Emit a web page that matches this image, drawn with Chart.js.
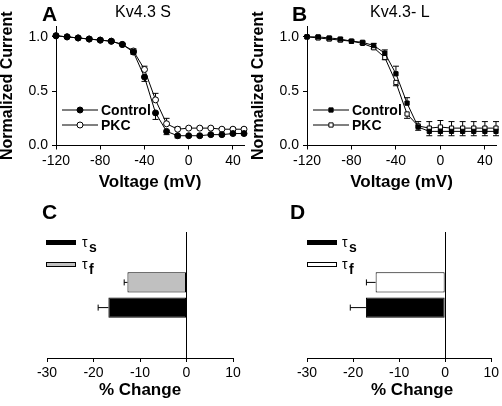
<!DOCTYPE html>
<html>
<head>
<meta charset="utf-8">
<script src="https://cdn.jsdelivr.net/npm/chart.js@4/dist/chart.umd.min.js"></script>
<style>
  body { margin: 0; background: #fff; }
  #page { position: relative; width: 502px; height: 406px; overflow: hidden; font-family: Arial, "Liberation Sans", sans-serif; }
  .panel { position: absolute; }
  .letter { position: absolute; font-weight: bold; font-size: 21px; line-height: 1; }
  .title { position: absolute; font-size: 16px; line-height: 1; }
</style>
</head>
<body>
<div id="page">
  <div class="panel" style="left:0;top:0;width:250px;height:200px"><canvas id="chartA"></canvas></div>
  <div class="panel" style="left:251px;top:0;width:251px;height:200px"><canvas id="chartB"></canvas></div>
  <div class="panel" style="left:0;top:200px;width:250px;height:206px"><canvas id="chartC"></canvas></div>
  <div class="panel" style="left:251px;top:200px;width:251px;height:206px"><canvas id="chartD"></canvas></div>
  <div class="letter" style="left:42px;top:3px">A</div>
  <div class="title" style="left:115px;top:4px">Kv4.3 S</div>
  <div class="letter" style="left:292px;top:3px">B</div>
  <div class="title" style="left:370px;top:4px">Kv4.3- L</div>
  <div class="letter" style="left:42px;top:201px">C</div>
  <div class="letter" style="left:290px;top:201px">D</div>
</div>
<script>
// voltage steps (mV)
const voltages = [-120, -110, -100, -90, -80, -70, -60, -50, -40, -30, -20, -10, 0, 10, 20, 30, 40, 50];

// panel A - Kv4.3 S
const ctrlA    = [1.01, 1.00, 0.99, 0.98, 0.97, 0.96, 0.93, 0.86, 0.63, 0.30, 0.13, 0.09, 0.09, 0.09, 0.10, 0.10, 0.11, 0.11];
const ctrlAErr = [0.01, 0.01, 0.01, 0.01, 0.01, 0.01, 0.01, 0.02, 0.04, 0.06, 0.03, 0.02, 0.01, 0.01, 0.01, 0.01, 0.01, 0.01];
const pkcA     = [1.01, 1.00, 0.99, 0.98, 0.97, 0.96, 0.93, 0.87, 0.70, 0.42, 0.20, 0.15, 0.16, 0.16, 0.16, 0.15, 0.15, 0.15];
const pkcAErr  = [0.01, 0.01, 0.01, 0.01, 0.01, 0.01, 0.01, 0.02, 0.03, 0.06, 0.05, 0.02, 0.01, 0.01, 0.01, 0.01, 0.01, 0.01];

// panel B - Kv4.3 L
const ctrlB    = [1.00, 1.00, 0.99, 0.98, 0.96, 0.95, 0.92, 0.85, 0.66, 0.39, 0.17, 0.13, 0.13, 0.13, 0.13, 0.13, 0.13, 0.13];
const ctrlBErr = [0.01, 0.01, 0.01, 0.01, 0.01, 0.01, 0.02, 0.03, 0.07, 0.05, 0.03, 0.04, 0.04, 0.04, 0.04, 0.04, 0.04, 0.04];
const pkcB     = [1.00, 0.99, 0.98, 0.97, 0.96, 0.94, 0.90, 0.81, 0.58, 0.29, 0.18, 0.16, 0.17, 0.16, 0.16, 0.16, 0.16, 0.16];
const pkcBErr  = [0.01, 0.01, 0.01, 0.01, 0.01, 0.01, 0.01, 0.02, 0.03, 0.04, 0.04, 0.06, 0.06, 0.06, 0.06, 0.06, 0.06, 0.06];

const seriesNames = ['Control', 'PKC'];
const yTicksIV = [0, 0.5, 1.0];
const xTicksIV = [-120, -80, -40, 0, 40];

// panels C and D - % change of tau
const tauLabels = ['τs', 'τf'];
const tauSubs = ['s', 'f'];
const barRows = ['', '', 'τf', 'τs', '', ''];
const tauC    = [-16.8, -12.7];
const tauCErr = [2.2, 0.7];
const tauD    = [-17.2, -15.1];
const tauDErr = [3.4, 2.0];
const xTicksBar = [-30, -20, -10, 0, 10];

const FONT = 'Arial, "Liberation Sans", sans-serif';
Chart.defaults.font.family = FONT;
Chart.defaults.color = '#000';
Chart.defaults.animation = false;

// error bars on the IV curves, pointing away from the other curve
const ivErrorBars = {
    id: 'ivErrorBars',
    beforeDatasetsDraw(chart) {
        const ctx = chart.ctx;
        const xs = chart.scales.x, ys = chart.scales.y;
        const sets = chart.data.datasets;
        ctx.save();
        ctx.strokeStyle = '#000';
        ctx.lineWidth = 1;
        sets.forEach((ds, k) => {
            const other = sets[1 - k];
            ds.data.forEach((p, i) => {
                const dir = p.y >= other.data[i].y ? 1 : -1;
                const x = xs.getPixelForValue(p.x);
                const y0 = ys.getPixelForValue(p.y);
                const y1 = ys.getPixelForValue(p.y + dir * ds.err[i]);
                ctx.beginPath();
                ctx.moveTo(x, y0); ctx.lineTo(x, y1);
                ctx.moveTo(x - 3, y1); ctx.lineTo(x + 3, y1);
                ctx.stroke();
            });
        });
        ctx.restore();
    }
};

const ivLegend = {
    id: 'ivLegend',
    afterDatasetsDraw(chart) {
        const ctx = chart.ctx;
        const a = chart.chartArea;
        chart.data.datasets.forEach((ds, i) => {
            const y = a.top + 84 + i * 15;
            const x0 = a.left + 6;
            ctx.save();
            ctx.strokeStyle = '#000';
            ctx.lineWidth = 1;
            ctx.beginPath();
            ctx.moveTo(x0, y); ctx.lineTo(x0 + 36, y);
            ctx.stroke();
            ctx.fillStyle = ds.pointBackgroundColor;
            Chart.helpers.drawPoint(ctx, { pointStyle: ds.pointStyle, radius: ds.pointRadius, borderWidth: 1, rotation: 0 }, x0 + 18, y);
            ctx.fillStyle = '#000';
            ctx.font = 'bold 14px ' + FONT;
            ctx.textBaseline = 'middle';
            ctx.fillText(ds.label, x0 + 39, y + 1);
            ctx.restore();
        });
    }
};

function makeIV(id, ctrl, ctrlErr, pkc, pkcErr, style) {
    const mk = (vals, errs, name, fill) => ({
        label: name,
        data: voltages.map((v, i) => ({ x: v, y: vals[i] })),
        err: errs,
        borderColor: '#000',
        borderWidth: 1,
        pointStyle: style,
        pointRadius: 3,
        pointBorderWidth: 1,
        pointBorderColor: '#000',
        pointBackgroundColor: fill,
        showLine: true,
        tension: 0,
        clip: false
    });
    return new Chart(document.getElementById(id), {
        type: 'scatter',
        data: { datasets: [mk(ctrl, ctrlErr, seriesNames[0], '#000'), mk(pkc, pkcErr, seriesNames[1], '#fff')] },
        options: {
            responsive: true,
            maintainAspectRatio: false,
            layout: { padding: { top: 26, right: 6, left: 0, bottom: 0 } },
            plugins: { legend: { display: false }, tooltip: { enabled: false } },
            scales: {
                x: {
                    type: 'linear', min: -120, max: 50,
                    afterBuildTicks: s => { s.ticks = xTicksIV.map(v => ({ value: v })); },
                    afterFit: s => { s.height = 54.5; },
                    grid: { drawOnChartArea: false, color: '#000', tickLength: 4 },
                    border: { color: '#000', width: 1 },
                    ticks: { font: { size: 14 }, padding: 3, maxRotation: 0 },
                    title: { display: true, text: 'Voltage (mV)', font: { size: 17, weight: 'bold' }, padding: { top: 0, bottom: 7 } }
                },
                y: {
                    min: 0, max: 1.1,
                    afterBuildTicks: s => { s.ticks = yTicksIV.map(v => ({ value: v })); },
                    afterFit: s => { s.width = 56; },
                    grid: { drawOnChartArea: false, color: '#000', tickLength: 4 },
                    border: { color: '#000', width: 1 },
                    ticks: { font: { size: 14 }, padding: 4, callback: v => v.toFixed(1) },
                    title: { display: true, text: 'Normalized Current', font: { size: 16, weight: 'bold', lineHeight: 1 }, padding: { top: 0, bottom: 0 } }
                }
            }
        },
        plugins: [ivErrorBars, ivLegend]
    });
}

// error bars on the tau bars, extending past the bar end
const barErrorBars = {
    id: 'barErrorBars',
    afterDatasetsDraw(chart) {
        const ctx = chart.ctx;
        const xs = chart.scales.x;
        ctx.save();
        ctx.strokeStyle = '#000';
        ctx.lineWidth = 1;
        chart.data.datasets.forEach((ds, k) => {
            const meta = chart.getDatasetMeta(k);
            ds.data.forEach((v, i) => {
                if (v === null) return;
                const el = meta.data[i];
                const x1 = xs.getPixelForValue(v - ds.err);
                ctx.beginPath();
                ctx.moveTo(el.x, el.y); ctx.lineTo(x1, el.y);
                ctx.moveTo(x1, el.y - 3); ctx.lineTo(x1, el.y + 3);
                ctx.stroke();
            });
        });
        ctx.restore();
    }
};

const barLegend = {
    id: 'barLegend',
    afterDraw(chart, args, opts) {
        const ctx = chart.ctx;
        const a = chart.chartArea;
        chart.data.datasets.forEach((ds, i) => {
            const y = a.top + 8 + i * 22;
            const x0 = a.left + opts.shift;
            ctx.save();
            ctx.fillStyle = ds.backgroundColor;
            ctx.strokeStyle = '#000';
            ctx.lineWidth = 1;
            ctx.fillRect(x0, y, 30, 5);
            ctx.strokeRect(x0 + 0.5, y + 0.5, 29, 4);
            ctx.fillStyle = '#000';
            ctx.textBaseline = 'alphabetic';
            ctx.font = '14px ' + FONT;
            ctx.fillText('τ', a.left + 35, y + 7);
            ctx.font = 'bold 14px ' + FONT;
            ctx.fillText(tauSubs[i], a.left + 42, y + 12);
            ctx.restore();
        });
        // axis caption, centred a little off the axis middle as in the figure
        ctx.save();
        ctx.fillStyle = '#000';
        ctx.font = 'bold 17px ' + FONT;
        ctx.textAlign = 'center';
        ctx.textBaseline = 'middle';
        ctx.fillText('% Change', (a.left + a.right) / 2 + opts.captionShift, chart.height - 16);
        ctx.restore();
    }
};

function makeBar(id, vals, errs, fastColor, padL, padR, legendShift, captionShift) {
    const colors = ['#000', fastColor];
    return new Chart(document.getElementById(id), {
        type: 'bar',
        data: {
            labels: barRows,
            datasets: tauLabels.map((lab, k) => ({
                label: lab,
                data: barRows.map(r => (r === lab ? vals[k] : null)),
                err: errs[k],
                backgroundColor: colors[k],
                borderColor: '#000',
                borderWidth: 1,
                borderSkipped: false,
                categoryPercentage: 1,
                barPercentage: 0.8
            }))
        },
        options: {
            indexAxis: 'y',
            responsive: true,
            maintainAspectRatio: false,
            layout: { padding: { top: 32, left: padL, right: padR, bottom: 0 } },
            plugins: {
                legend: { display: false },
                tooltip: { enabled: false },
                barLegend: { shift: legendShift, captionShift: captionShift }
            },
            scales: {
                x: {
                    type: 'linear', min: -30, max: 10, stacked: true,
                    afterBuildTicks: s => { s.ticks = xTicksBar.map(v => ({ value: v })); },
                    afterFit: s => { s.height = 48; },
                    grid: {
                        drawOnChartArea: true,
                        color: c => (c.tick && c.tick.value === 0 ? '#000' : 'rgba(0,0,0,0)'),
                        tickColor: '#000',
                        tickLength: 4
                    },
                    border: { color: '#000', width: 1 },
                    ticks: { font: { size: 14 }, padding: 3, maxRotation: 0 }
                },
                y: { type: 'category', display: false, offset: false, stacked: true }
            }
        },
        plugins: [barErrorBars, barLegend]
    });
}

makeIV('chartA', ctrlA, ctrlAErr, pkcA, pkcAErr, 'circle');
makeIV('chartB', ctrlB, ctrlBErr, pkcB, pkcBErr, 'rect');
makeBar('chartC', tauC, tauCErr, '#c0c0c0', 47, 17, -1, 0);
makeBar('chartD', tauD, tauDErr, '#fff', 56, 9, 0, 13);
</script>
</body>
</html>
